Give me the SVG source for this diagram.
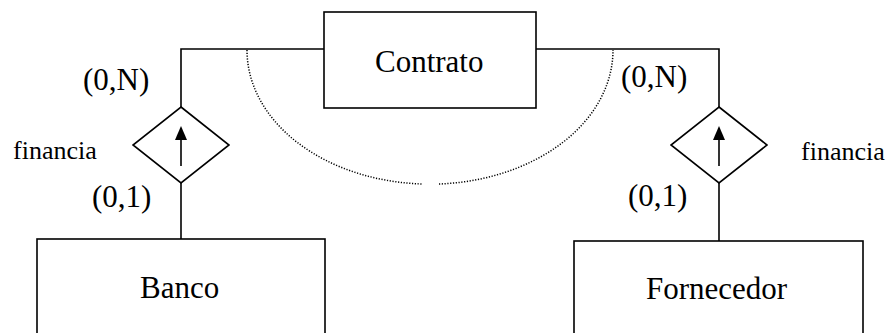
<svg xmlns="http://www.w3.org/2000/svg" width="886" height="333" viewBox="0 0 886 333">
<style>
.box{fill:#fff;stroke:#000;stroke-width:1.6}
.ln{fill:none;stroke:#000;stroke-width:1.6}
.dot{fill:none;stroke:#000;stroke-width:1.5;stroke-dasharray:1.2 1.6}
text{font-family:"Liberation Serif","Times New Roman",serif;fill:#000}
.big{font-size:31px}
.sm{font-size:26px}
</style>
<rect x="0" y="0" width="886" height="333" fill="#fff"/>
<g id="connectors">
<path class="ln" d="M324,49 H181 V107"/>
<path class="ln" d="M181,183 V239"/>
<path class="ln" d="M536,49 H719 V107"/>
<path class="ln" d="M719,183 V241"/>
<path class="dot" d="M247,50 A183,134 0 0 0 422,184"/>
<path class="dot" d="M439,184 A183,134 0 0 0 613,50"/>
</g>
<g id="contrato">
<rect class="box" x="324" y="12" width="212" height="96"/>
<text class="big" x="375" y="72">Contrato</text>
</g>
<g id="financia-banco">
<polygon class="box" points="181,107 229,145 181,183 133,145"/>
<line class="ln" x1="181" y1="166" x2="181" y2="138"/>
<path d="M175,140 L181,126 L187,140 Z" fill="#000"/>
<text class="sm" x="13" y="159">financia</text>
<text class="big" x="83" y="90">(0,N)</text>
<text class="big" x="92" y="207">(0,1)</text>
</g>
<g id="financia-fornecedor">
<polygon class="box" points="719,107 767,145 719,183 671,145"/>
<line class="ln" x1="719" y1="166" x2="719" y2="138"/>
<path d="M713,140 L719,126 L725,140 Z" fill="#000"/>
<text class="sm" x="801" y="160">financia</text>
<text class="big" x="621" y="87">(0,N)</text>
<text class="big" x="628" y="206">(0,1)</text>
</g>
<g id="banco">
<rect class="box" x="37" y="239" width="288" height="110"/>
<text class="big" x="140" y="298">Banco</text>
</g>
<g id="fornecedor">
<rect class="box" x="574" y="241" width="289" height="110"/>
<text class="big" x="646" y="299">Fornecedor</text>
</g>
</svg>
